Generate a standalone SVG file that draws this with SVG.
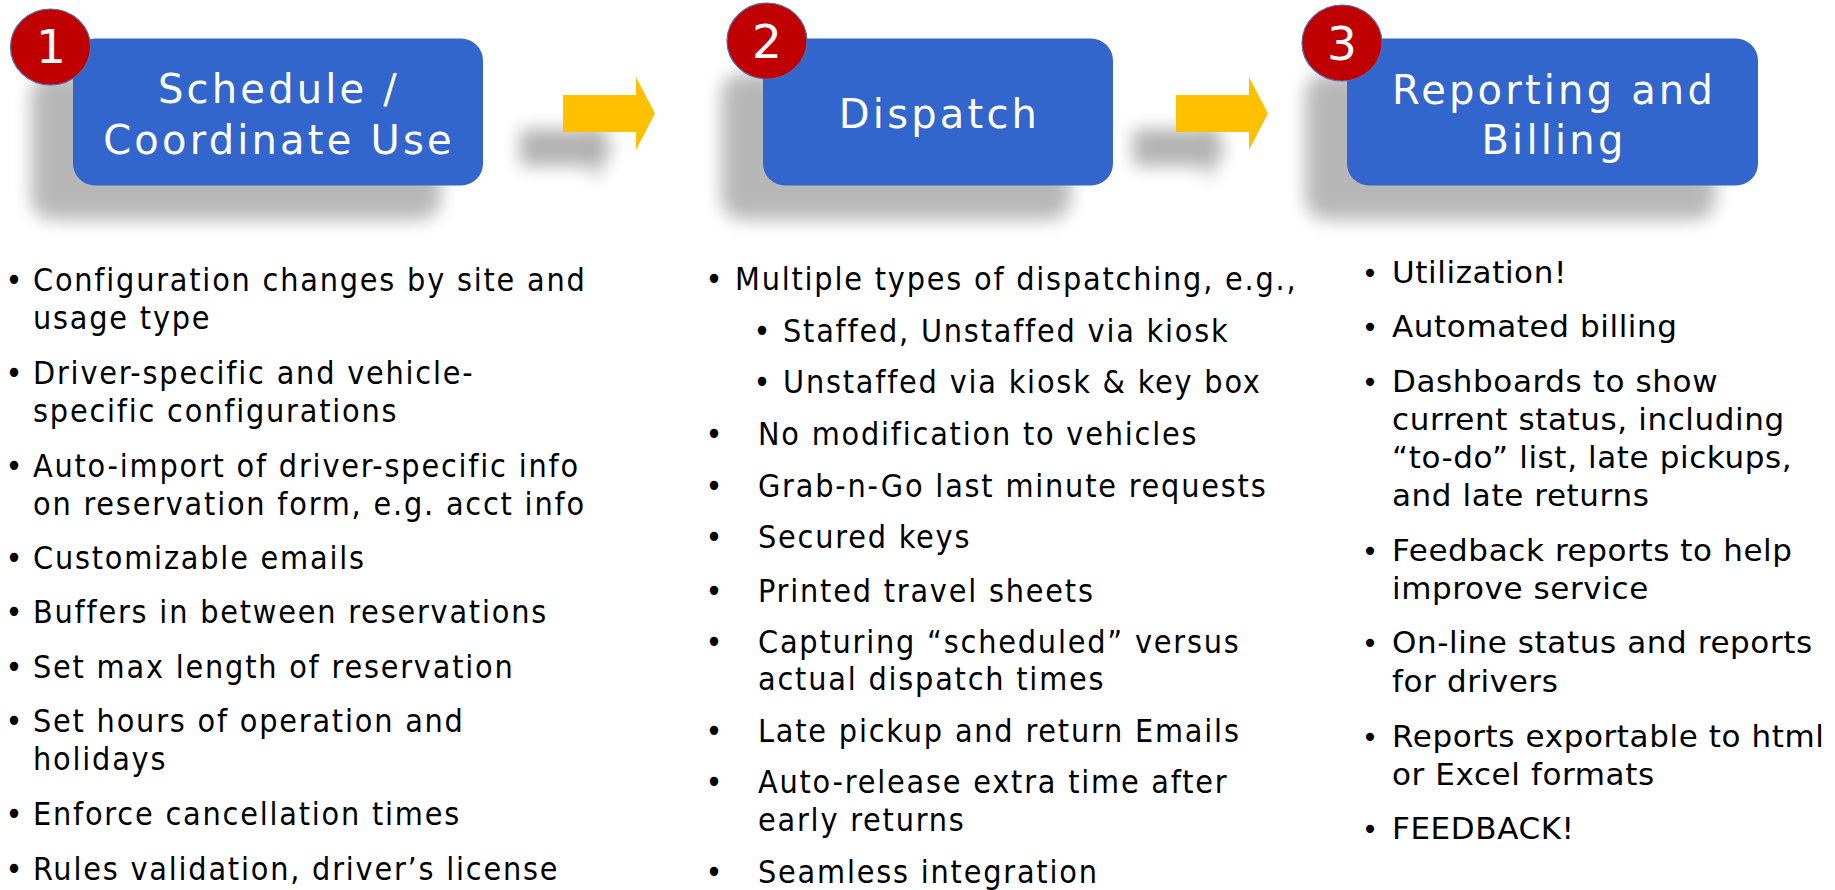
<svg xmlns="http://www.w3.org/2000/svg" width="1835" height="890" viewBox="0 0 1835 890">
  <defs>
    <filter id="soft" x="-30%" y="-50%" width="160%" height="200%">
      <feGaussianBlur stdDeviation="9"/>
    </filter>
    <style>
      .box { fill: #3366CC; }
      .shadow { fill: #000; opacity: 0.28; filter: url(#soft); }
      .ashadow { fill: #000; opacity: 0.3; filter: url(#soft); }
      .badge { fill: #C00000; stroke: #4E6AAE; stroke-width: 1.2; }
      .num { fill: #fff; font-family: "DejaVu Sans", sans-serif; font-size: 47px; text-anchor: middle; }
      .title { fill: #fff; font-family: "DejaVu Sans", sans-serif; font-size: 40px; letter-spacing: 3.2px; text-anchor: middle; }
      .arrow { fill: #FFC000; }
      .t12 { fill: #000; font-family: "DejaVu Sans Condensed", "Noto Sans", sans-serif; font-size: 32px; letter-spacing: 1.8px; }
      .t3 { fill: #000; font-family: "DejaVu Sans", sans-serif; font-size: 31px; letter-spacing: 0.6px; }
      .dot { text-anchor: middle; letter-spacing: 0; }
      .t3 .dot { font-size: 28px; }
    </style>
  </defs>

  <rect width="1835" height="890" fill="#fff"/>

  <!-- arrows between the stages -->
  <g id="connectors">
    <polygon class="ashadow" transform="translate(-43,34)" points="563,95 636,95 636,77 655,113.5 636,150 636,132 563,132"/>
    <polygon class="arrow" points="563,95 636,95 636,77 655,113.5 636,150 636,132 563,132"/>
    <polygon class="ashadow" transform="translate(-43,34)" points="1176,95 1249,95 1249,77 1268,113.5 1249,150 1249,132 1176,132"/>
    <polygon class="arrow" points="1176,95 1249,95 1249,77 1268,113.5 1249,150 1249,132 1176,132"/>
  </g>

  <!-- stage 1 -->
  <g id="stage1">
    <rect class="shadow" x="31" y="73" width="410" height="147" rx="22"/>
    <rect class="box" x="73" y="38.5" width="410" height="147" rx="22"/>
    <ellipse class="badge" cx="50.5" cy="47" rx="40" ry="38"/>
    <text class="num" x="51" y="63">1</text>
    <text class="title"><tspan x="279" y="102.5">Schedule /</tspan><tspan x="279" y="154">Coordinate Use</tspan></text>
  </g>

  <!-- stage 2 -->
  <g id="stage2">
    <rect class="shadow" x="721" y="73" width="350" height="147" rx="22"/>
    <rect class="box" x="763" y="38.5" width="350" height="147" rx="22"/>
    <ellipse class="badge" cx="767" cy="41" rx="40" ry="38"/>
    <text class="num" x="767" y="58">2</text>
    <text class="title" x="939.5" y="128">Dispatch</text>
  </g>

  <!-- stage 3 -->
  <g id="stage3">
    <rect class="shadow" x="1305" y="73" width="411" height="147" rx="22"/>
    <rect class="box" x="1347" y="38.5" width="411" height="147" rx="22"/>
    <ellipse class="badge" cx="1342" cy="43" rx="40" ry="38"/>
    <text class="num" x="1342" y="60">3</text>
    <text class="title"><tspan x="1554" y="103.5">Reporting and</tspan><tspan x="1554" y="153.5">Billing</tspan></text>
  </g>

  <!-- stage 1 features -->
  <g id="list1" class="t12">
    <text><tspan class="dot" x="14" y="290.5">•</tspan><tspan x="33" y="290.5">Configuration changes by site and</tspan><tspan x="33" y="328.5">usage type</tspan></text>
    <text><tspan class="dot" x="14" y="384">•</tspan><tspan x="33" y="384">Driver-specific and vehicle-</tspan><tspan x="33" y="422">specific configurations</tspan></text>
    <text><tspan class="dot" x="14" y="476.5">•</tspan><tspan x="33" y="476.5">Auto-import of driver-specific info</tspan><tspan x="33" y="514.5">on reservation form, e.g. acct info</tspan></text>
    <text><tspan class="dot" x="14" y="569">•</tspan><tspan x="33" y="569">Customizable emails</tspan></text>
    <text><tspan class="dot" x="14" y="623">•</tspan><tspan x="33" y="623">Buffers in between reservations</tspan></text>
    <text><tspan class="dot" x="14" y="678">•</tspan><tspan x="33" y="678">Set max length of reservation</tspan></text>
    <text><tspan class="dot" x="14" y="732">•</tspan><tspan x="33" y="732">Set hours of operation and</tspan><tspan x="33" y="770">holidays</tspan></text>
    <text><tspan class="dot" x="14" y="825">•</tspan><tspan x="33" y="825">Enforce cancellation times</tspan></text>
    <text><tspan class="dot" x="14" y="880">•</tspan><tspan x="33" y="880">Rules validation, driver’s license</tspan></text>
  </g>

  <!-- stage 2 features -->
  <g id="list2" class="t12">
    <text><tspan class="dot" x="714" y="290">•</tspan><tspan x="735" y="290">Multiple types of dispatching, e.g.,</tspan></text>
    <text><tspan class="dot" x="762" y="341.5">•</tspan><tspan x="783" y="341.5">Staffed, Unstaffed via kiosk</tspan></text>
    <text><tspan class="dot" x="762" y="393">•</tspan><tspan x="783" y="393">Unstaffed via kiosk &amp; key box</tspan></text>
    <text><tspan class="dot" x="714" y="445">•</tspan><tspan x="758" y="445">No modification to vehicles</tspan></text>
    <text><tspan class="dot" x="714" y="496.5">•</tspan><tspan x="758" y="496.5">Grab-n-Go last minute requests</tspan></text>
    <text><tspan class="dot" x="714" y="548">•</tspan><tspan x="758" y="548">Secured keys</tspan></text>
    <text><tspan class="dot" x="714" y="601.5">•</tspan><tspan x="758" y="601.5">Printed travel sheets</tspan></text>
    <text><tspan class="dot" x="714" y="652.5">•</tspan><tspan x="758" y="652.5">Capturing “scheduled” versus</tspan><tspan x="758" y="690">actual dispatch times</tspan></text>
    <text><tspan class="dot" x="714" y="741.5">•</tspan><tspan x="758" y="741.5">Late pickup and return Emails</tspan></text>
    <text><tspan class="dot" x="714" y="793">•</tspan><tspan x="758" y="793">Auto-release extra time after</tspan><tspan x="758" y="831">early returns</tspan></text>
    <text><tspan class="dot" x="714" y="883">•</tspan><tspan x="758" y="883">Seamless integration</tspan></text>
  </g>

  <!-- stage 3 features -->
  <g id="list3" class="t3">
    <text><tspan class="dot" x="1370" y="282.5">•</tspan><tspan x="1392" y="282.5">Utilization!</tspan></text>
    <text><tspan class="dot" x="1370" y="336.5">•</tspan><tspan x="1392" y="336.5">Automated billing</tspan></text>
    <text><tspan class="dot" x="1370" y="391.5">•</tspan><tspan x="1392" y="391.5">Dashboards to show</tspan><tspan x="1392" y="430">current status, including</tspan><tspan x="1392" y="468">“to-do” list, late pickups,</tspan><tspan x="1392" y="506">and late returns</tspan></text>
    <text><tspan class="dot" x="1370" y="560.5">•</tspan><tspan x="1392" y="560.5">Feedback reports to help</tspan><tspan x="1392" y="599">improve service</tspan></text>
    <text><tspan class="dot" x="1370" y="652.5">•</tspan><tspan x="1392" y="652.5">On-line status and reports</tspan><tspan x="1392" y="691.5">for drivers</tspan></text>
    <text><tspan class="dot" x="1370" y="746.5">•</tspan><tspan x="1392" y="746.5">Reports exportable to html</tspan><tspan x="1392" y="785">or Excel formats</tspan></text>
    <text><tspan class="dot" x="1370" y="838.5">•</tspan><tspan x="1392" y="838.5">FEEDBACK!</tspan></text>
  </g>
</svg>
